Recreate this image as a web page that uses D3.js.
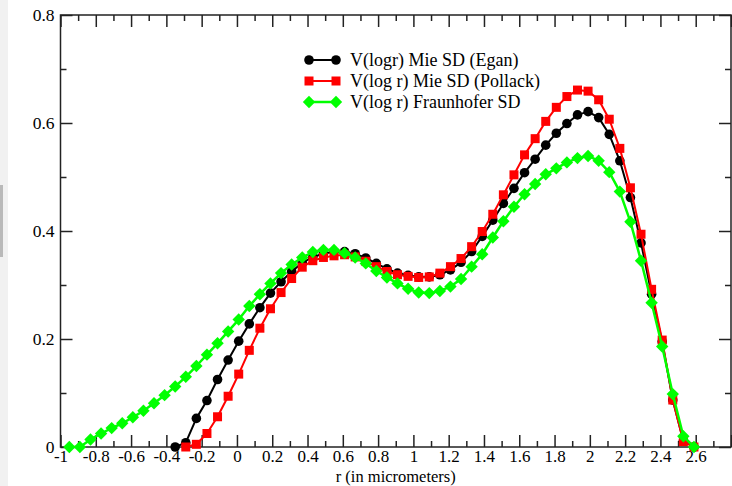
<!DOCTYPE html>
<html>
<head>
<meta charset="utf-8">
<script src="https://cdn.jsdelivr.net/npm/d3@7"></script>
<style>
  html, body { margin: 0; padding: 0; background: #fff; }
  svg { display: block; }
  svg text { font-family: "Liberation Serif", "Times New Roman", Times, Tinos, "DejaVu Serif", serif !important; }
</style>
</head>
<body>
<svg id="chart" width="732" height="486"></svg>
<script>
// ---- data ----
const rValues = [-0.95,-0.89,-0.83,-0.77,-0.71,-0.65,-0.59,-0.53,-0.47,-0.41,
  -0.35,-0.29,-0.23,-0.17,-0.11,-0.05,0.01,0.07,0.13,0.19,
  0.25,0.31,0.37,0.43,0.49,0.55,0.61,0.67,0.73,0.79,
  0.85,0.91,0.97,1.03,1.09,1.15,1.21,1.27,1.33,1.39,
  1.45,1.51,1.57,1.63,1.69,1.75,1.81,1.87,1.93,1.99,
  2.05,2.11,2.17,2.23,2.29,2.35,2.41,2.47,2.53,2.59];

const eganValues = [null,null,null,null,null,null,null,null,null,null,
  0,0.008,0.053,0.086,0.125,0.161,0.196,0.228,0.258,0.285,
  0.306,0.325,0.341,0.352,0.358,0.362,0.362,0.358,0.350,0.340,
  0.330,0.322,0.318,0.315,0.315,0.319,0.328,0.342,0.362,0.390,
  0.420,0.451,0.479,0.508,0.533,0.559,0.581,0.599,0.615,0.621,
  0.610,0.579,0.530,0.462,0.378,0.283,0.195,0.087,0.011,0];

const pollackValues = [null,null,null,null,null,null,null,null,null,null,
  null,0,0.005,0.025,0.056,0.094,0.135,0.179,0.220,0.256,
  0.286,0.312,0.333,0.345,0.351,0.354,0.356,0.352,0.344,0.334,
  0.325,0.319,0.316,0.314,0.315,0.322,0.334,0.349,0.371,0.399,
  0.431,0.467,0.504,0.541,0.571,0.603,0.629,0.649,0.661,0.659,
  0.643,0.607,0.553,0.480,0.394,0.292,0.198,0.087,0.010,0];

const fraunhoferValues = [0,0,0.014,0.025,0.035,0.044,0.055,0.067,0.081,0.096,
  0.112,0.130,0.150,0.171,0.192,0.214,0.236,0.261,0.283,0.303,
  0.322,0.338,0.351,0.361,0.365,0.365,0.359,0.351,0.340,0.326,
  0.314,0.303,0.293,0.286,0.285,0.289,0.297,0.311,0.334,0.357,
  0.388,0.418,0.445,0.468,0.487,0.505,0.516,0.527,0.535,0.539,
  0.530,0.509,0.473,0.417,0.345,0.267,0.186,0.098,0.020,0];

const seriesNames = ["V(logr) Mie SD (Egan)", "V(log r) Mie SD (Pollack)", "V(log r) Fraunhofer SD"];
const seriesColors = ["#000000", "#ff0000", "#00ff00"];
const seriesMarkers = ["circle", "square", "diamond"];

const xMajorTicks = [-1,-0.8,-0.6,-0.4,-0.2,0,0.2,0.4,0.6,0.8,1,1.2,1.4,1.6,1.8,2,2.2,2.4,2.6,2.8];
const xLabelTicks = [-1,-0.8,-0.6,-0.4,-0.2,0,0.2,0.4,0.6,0.8,1,1.2,1.4,1.6,1.8,2,2.2,2.4,2.6];
const xMinorTicks = [-0.9,-0.7,-0.5,-0.3,-0.1,0.1,0.3,0.5,0.7,0.9,1.1,1.3,1.5,1.7,1.9,2.1,2.3,2.5,2.7];
const yMajorTicks = [0,0.2,0.4,0.6,0.8];
const yMinorTicks = [0.1,0.3,0.5,0.7];
const xTitle = "r (in micrometers)";

// ---- layout ----
const svg = d3.select("#chart");
const W = 732, H = 486;
const L = 60.5, R = 731, T = 15, B = 447;
const FONT = '"Liberation Serif", "Times New Roman", Times, Tinos, "DejaVu Serif", serif';
const FS = 17.5;

// faint screenshot strip on left edge
svg.append("rect").attr("x", 0).attr("y", 0).attr("width", 8).attr("height", H).attr("fill", "#f1f1f1");
svg.append("rect").attr("x", 0).attr("y", 185).attr("width", 3).attr("height", 72).attr("fill", "#b9b9b9");

const x = d3.scaleLinear().domain([-1, 2.8]).range([L, R]);
const y = d3.scaleLinear().domain([0, 0.8]).range([B, T]);

const fmt = d => { const v = +d.toFixed(1); return (v < 0 ? "-" : "") + Math.abs(v); };

const axisColor = "#222";
function styleAxis(g, size) {
  g.attr("font-family", FONT);
  g.select(".domain").remove();
  g.selectAll("line").attr("stroke", axisColor).attr("stroke-width", 1.5);
  g.selectAll("text").attr("fill", "#000").attr("font-size", size || FS).style("font-family", FONT);
}

// bottom
svg.append("g").attr("transform", `translate(0,${B})`)
  .call(d3.axisBottom(x).tickValues(xMajorTicks).tickSize(-12).tickPadding(3)
    .tickFormat(d => xLabelTicks.includes(d) ? fmt(d) : ""))
  .call(g => styleAxis(g, 17));
svg.append("g").attr("transform", `translate(0,${B})`)
  .call(d3.axisBottom(x).tickValues(xMinorTicks).tickSize(-6).tickFormat(""))
  .call(styleAxis);
// top
svg.append("g").attr("transform", `translate(0,${T})`)
  .call(d3.axisTop(x).tickValues(xMajorTicks).tickSize(-12).tickFormat(""))
  .call(styleAxis);
svg.append("g").attr("transform", `translate(0,${T})`)
  .call(d3.axisTop(x).tickValues(xMinorTicks).tickSize(-6).tickFormat(""))
  .call(styleAxis);
// left
svg.append("g").attr("transform", `translate(${L},0)`)
  .call(d3.axisLeft(y).tickValues(yMajorTicks).tickSize(-12).tickPadding(6).tickFormat(fmt))
  .call(g => styleAxis(g, 17.5));
svg.append("g").attr("transform", `translate(${L},0)`)
  .call(d3.axisLeft(y).tickValues(yMinorTicks).tickSize(-6).tickFormat(""))
  .call(styleAxis);
// right
svg.append("g").attr("transform", `translate(${R},0)`)
  .call(d3.axisRight(y).tickValues(yMajorTicks).tickSize(-12).tickFormat(""))
  .call(styleAxis);
svg.append("g").attr("transform", `translate(${R},0)`)
  .call(d3.axisRight(y).tickValues(yMinorTicks).tickSize(-6).tickFormat(""))
  .call(styleAxis);

// frame
svg.append("rect").attr("x", L).attr("y", T).attr("width", R - L).attr("height", B - T)
  .attr("fill", "none").attr("stroke", axisColor).attr("stroke-width", 1.5);

// x title
svg.append("text").attr("x", (L + R) / 2).attr("y", 482).attr("text-anchor", "middle")
  .attr("font-size", 16.5).style("font-family", FONT).text(xTitle);

// ---- marker drawing ----
function drawMarker(g, type, cx, cy, color) {
  if (type === "circle") {
    g.append("circle").attr("cx", cx).attr("cy", cy).attr("r", 4.8).attr("fill", color);
  } else if (type === "square") {
    g.append("rect").attr("x", cx - 4.5).attr("y", cy - 4.5).attr("width", 9).attr("height", 9).attr("fill", color);
  } else {
    const s = 6.2;
    g.append("path").attr("d", `M${cx},${cy - s}L${cx + s},${cy}L${cx},${cy + s}L${cx - s},${cy}Z`).attr("fill", color);
  }
}

const allSeries = [eganValues, pollackValues, fraunhoferValues];
const lineWidths = [2, 2, 2.5];
allSeries.forEach((vals, si) => {
  const pts = rValues.map((r, i) => ({ r, v: vals[i] })).filter(p => p.v !== null);
  const g = svg.append("g");
  g.append("path").datum(pts)
    .attr("d", d3.line().x(p => x(p.r)).y(p => y(p.v)))
    .attr("fill", "none").attr("stroke", seriesColors[si]).attr("stroke-width", lineWidths[si])
    .attr("stroke-linejoin", "round");
  pts.forEach(p => drawMarker(g, seriesMarkers[si], x(p.r), y(p.v), seriesColors[si]));
});

// ---- legend ----
const legendY = [60, 81, 102];
seriesNames.forEach((name, si) => {
  const g = svg.append("g");
  const yy = legendY[si];
  g.append("line").attr("x1", 309).attr("x2", 336).attr("y1", yy).attr("y2", yy)
    .attr("stroke", seriesColors[si]).attr("stroke-width", lineWidths[si]);
  drawMarker(g, seriesMarkers[si], 309, yy, seriesColors[si]);
  drawMarker(g, seriesMarkers[si], 336, yy, seriesColors[si]);
  g.append("text").attr("x", 350).attr("y", yy + 6).attr("font-size", 18).attr("fill", "#000")
    .style("font-family", FONT).text(name);
});
</script>
</body>
</html>
